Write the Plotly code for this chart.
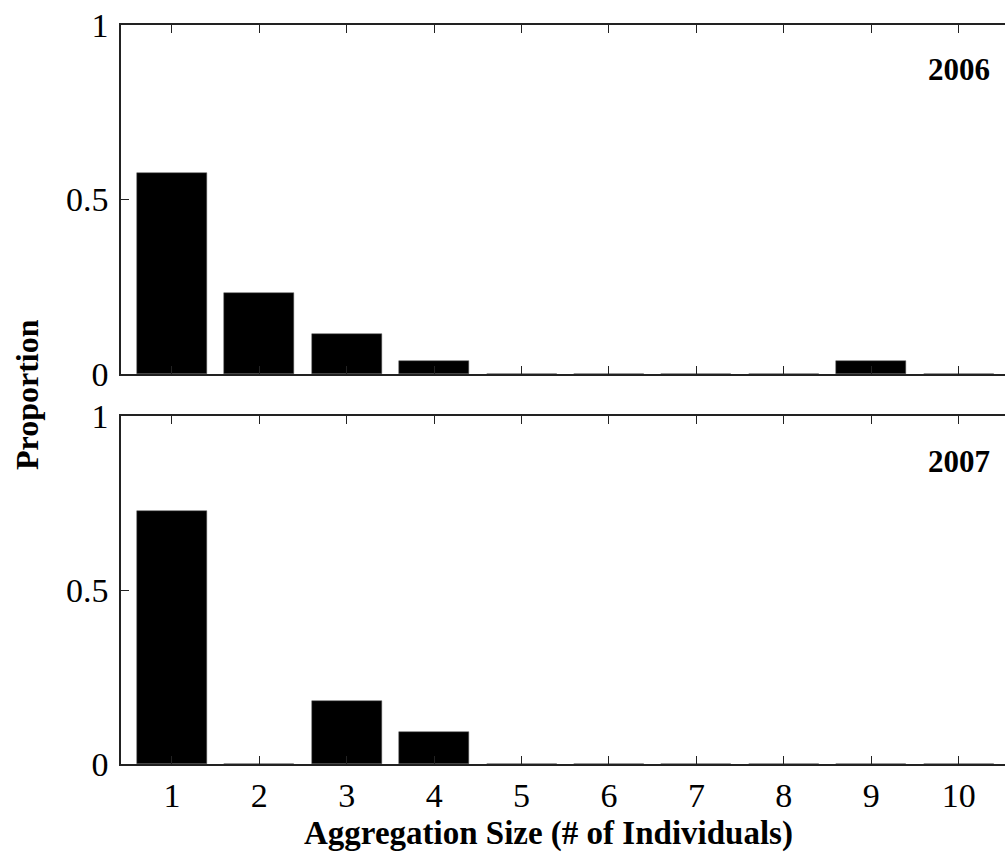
import plotly.graph_objects as go

sizes = [1, 2, 3, 4, 5, 6, 7, 8, 9, 10]
prop_2006 = [0.577, 0.231, 0.115, 0.038, 0, 0, 0, 0, 0.038, 0]
prop_2007 = [0.727, 0, 0.182, 0.091, 0, 0, 0, 0, 0, 0]
panel_labels = ["2006", "2007"]
x_ticks = [1, 2, 3, 4, 5, 6, 7, 8, 9, 10]
y_ticks = [0, 0.5, 1]
y_tick_text = ["0", "0.5", "1"]

W, H = 1005, 854
FONT = "Liberation Serif"

fig = go.Figure()
fig.add_trace(go.Bar(x=sizes, y=prop_2006, width=0.8, marker=dict(color="black", line=dict(color="#555", width=0.5)),
                     xaxis="x", yaxis="y", showlegend=False))
fig.add_trace(go.Bar(x=sizes, y=prop_2007, width=0.8, marker=dict(color="black", line=dict(color="#555", width=0.5)),
                     xaxis="x2", yaxis="y2", showlegend=False))

xdom = [121 / W, 1.0]
top_dom = [(H - 374) / H, (H - 25) / H]
bot_dom = [(H - 764) / H, (H - 416) / H]

xcommon = dict(range=[0.418, 10.53], domain=xdom, tickmode="array", tickvals=x_ticks,
               ticks="inside", ticklen=8, tickwidth=1, tickcolor="#222",
               showline=True, linecolor="#222", linewidth=1.5, mirror="ticks",
               showgrid=False, zeroline=False, automargin=False)
ycommon = dict(range=[0, 1], tickmode="array", tickvals=y_ticks, ticktext=y_tick_text,
               ticks="inside", ticklen=8, tickwidth=1, tickcolor="#222",
               showline=True, linecolor="#222", linewidth=1.5,
               showgrid=False, zeroline=False, automargin=False,
               tickfont=dict(family=FONT, size=34, color="black"), ticklabelstandoff=4)

fig.update_layout(
    width=W, height=H,
    margin=dict(l=0, r=0, t=0, b=0),
    paper_bgcolor="white", plot_bgcolor="white",
    bargap=0,
    xaxis=dict(**xcommon, anchor="y", showticklabels=False),
    yaxis=dict(**ycommon, domain=top_dom, anchor="x"),
    xaxis2=dict(**xcommon, anchor="y2", showticklabels=True,
                tickfont=dict(family=FONT, size=34, color="black"), ticklabelstandoff=0),
    yaxis2=dict(**ycommon, domain=bot_dom, anchor="x2"),
    annotations=[
        dict(text="<b>" + panel_labels[0] + "</b>", xref="paper", yref="paper",
             x=992 / W, y=(H - 70) / H, xanchor="right", yanchor="middle", showarrow=False,
             font=dict(family=FONT, size=31, color="black")),
        dict(text="<b>" + panel_labels[1] + "</b>", xref="paper", yref="paper",
             x=992 / W, y=(H - 462) / H, xanchor="right", yanchor="middle", showarrow=False,
             font=dict(family=FONT, size=31, color="black")),
        dict(text="<b>Aggregation Size (# of Individuals)</b>", xref="paper", yref="paper",
             x=548 / W, y=(H - 833) / H, xanchor="center", yanchor="middle", showarrow=False,
             font=dict(family=FONT, size=33, color="black")),
        dict(text="<b>Proportion</b>", xref="paper", yref="paper", textangle=-90,
             x=27 / W, y=(H - 395) / H, xanchor="center", yanchor="middle", showarrow=False,
             font=dict(family=FONT, size=32, color="black")),
    ],
)

fig.write_html("out.html")
